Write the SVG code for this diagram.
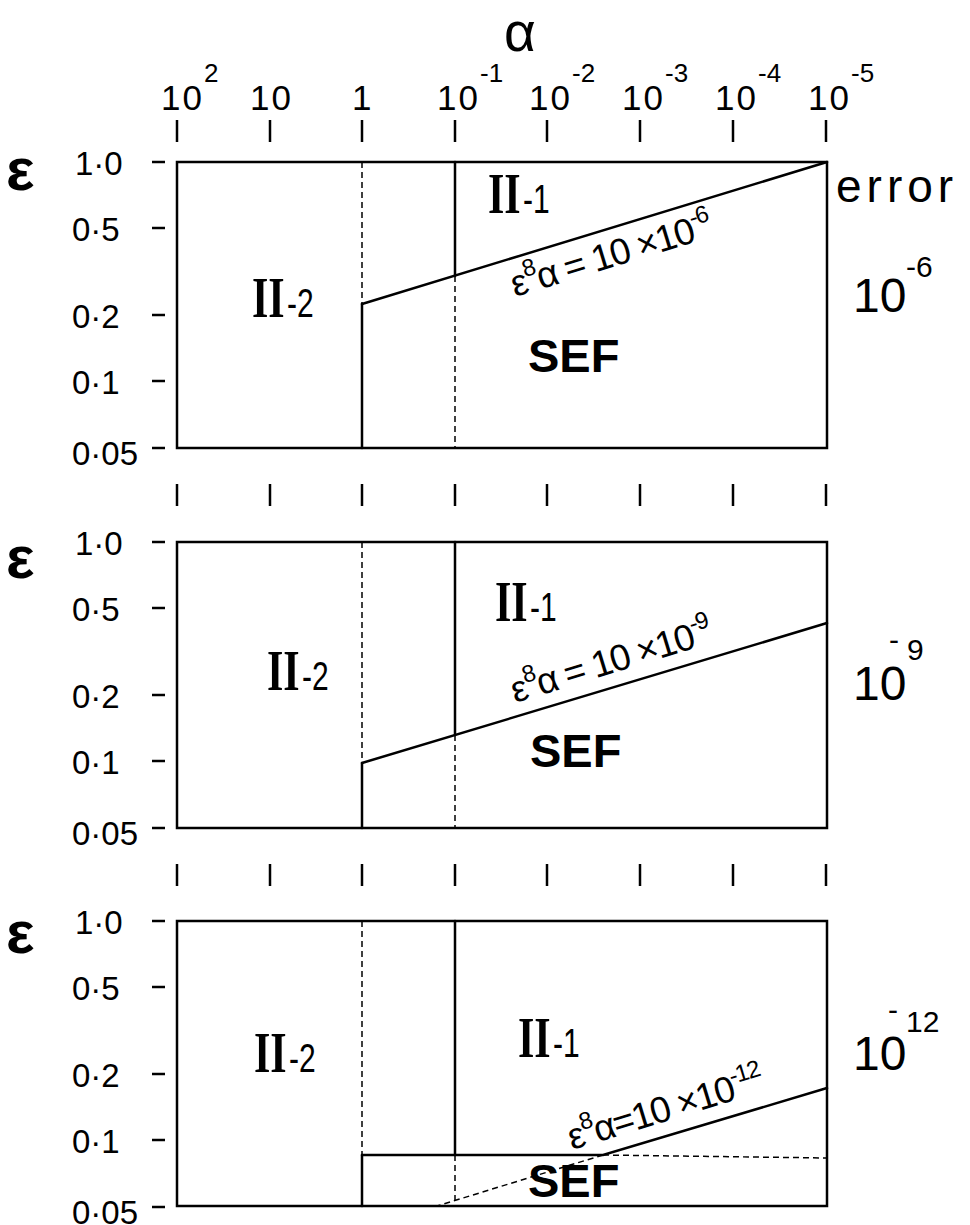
<svg xmlns="http://www.w3.org/2000/svg" width="970" height="1225" viewBox="0 0 970 1225">
<style>
.ln{stroke:#000;stroke-width:2.5;fill:none;stroke-linecap:round}
.ds{stroke:#000;stroke-width:1.5;fill:none;stroke-dasharray:6 4}
.tk{stroke:#000;stroke-width:2.5;fill:none}
.t{font-family:"Liberation Sans",Arial,sans-serif;fill:#000}
.ax{font-size:35px;letter-spacing:2px}
.sup{font-size:26px;letter-spacing:0}
.yl{font-size:33px}
.eps{font-family:"Liberation Sans",Arial,sans-serif;font-size:60px;font-weight:bold}
.rs{font-family:"Liberation Serif","Times New Roman",serif;font-weight:bold;font-size:56px}
.rn{font-family:"Liberation Sans",Arial,sans-serif;font-weight:normal;font-size:40px}
.sef{font-family:"Liberation Sans",Arial,sans-serif;font-weight:bold;font-size:47px}
.eq{font-family:"Liberation Sans",Arial,sans-serif;font-size:37px;letter-spacing:-1.5px}
.es{font-size:24px}
.big{font-family:"Liberation Sans",Arial,sans-serif;font-size:48px}
.bs{font-size:30px}
</style>
<defs>
<g id="yticks">
<line class="tk" x1="152" y1="0" x2="165" y2="0"/>
<line class="tk" x1="152" y1="66" x2="165" y2="66"/>
<line class="tk" x1="152" y1="153" x2="165" y2="153"/>
<line class="tk" x1="152" y1="219" x2="165" y2="219"/>
<line class="tk" x1="152" y1="286" x2="165" y2="286"/>
<text class="t yl" x="75" y="13">1·0</text>
<text class="t yl" x="72" y="79">0·5</text>
<text class="t yl" x="72" y="166">0·2</text>
<text class="t yl" x="72" y="232">0·1</text>
<text class="t yl" x="72" y="303">0·05</text>
</g>
<g id="xticks">
<line class="tk" x1="177" y1="0" x2="177" y2="22"/>
<line class="tk" x1="270" y1="0" x2="270" y2="22"/>
<line class="tk" x1="362" y1="0" x2="362" y2="22"/>
<line class="tk" x1="455" y1="0" x2="455" y2="22"/>
<line class="tk" x1="547" y1="0" x2="547" y2="22"/>
<line class="tk" x1="640" y1="0" x2="640" y2="22"/>
<line class="tk" x1="733" y1="0" x2="733" y2="22"/>
<line class="tk" x1="826" y1="0" x2="826" y2="22"/>
</g>
</defs>

<g id="alpha-axis">
<text class="t" x="520" y="51" font-size="55" text-anchor="middle">α</text>
<g class="t ax">
<text x="161" y="110">10<tspan class="sup" x="204" y="82">2</tspan></text>
<text x="250" y="110">10</text>
<text x="352" y="110">1</text>
<text x="437" y="110">10<tspan class="sup" x="480" y="82">-1</tspan></text>
<text x="529" y="110">10<tspan class="sup" x="572" y="82">-2</tspan></text>
<text x="622" y="110">10<tspan class="sup" x="665" y="82">-3</tspan></text>
<text x="715" y="110">10<tspan class="sup" x="758" y="82">-4</tspan></text>
<text x="808" y="110">10<tspan class="sup" x="851" y="82">-5</tspan></text>
</g>
<use href="#xticks" y="120"/>
<use href="#xticks" y="484"/>
<use href="#xticks" y="864"/>
</g>

<g id="panel1">
<text class="eps" x="6" y="190">ε</text>
<use href="#yticks" y="162"/>
<rect class="ln" x="177" y="162" width="650" height="286"/>
<text class="rs" transform="translate(252,317) scale(0.75,1)">II<tspan class="rn" dx="3">-2</tspan></text>
<text class="rs" transform="translate(488,213) scale(0.75,1)">II<tspan class="rn" dx="3">-1</tspan></text>
<text class="sef" x="528" y="372">SEF</text>
<text class="eq" transform="translate(515,297) rotate(-17)">ε<tspan class="es" dy="-16">8</tspan><tspan dy="16">α = 10 ×10</tspan><tspan class="es" dy="-16">-6</tspan></text>
<text class="t" x="836" y="202" font-size="46" letter-spacing="5">error</text>
<text class="big" x="853" y="312">10<tspan class="bs" x="906" y="277">-6</tspan></text>
</g>

<g id="panel2">
<text class="eps" x="6" y="578">ε</text>
<use href="#yticks" y="542"/>
<rect class="ln" x="177" y="542" width="650" height="286"/>
<text class="rs" transform="translate(267,690) scale(0.75,1)">II<tspan class="rn" dx="3">-2</tspan></text>
<text class="rs" transform="translate(495,621) scale(0.75,1)">II<tspan class="rn" dx="3">-1</tspan></text>
<text class="sef" x="530" y="767">SEF</text>
<text class="eq" transform="translate(515,703) rotate(-17)">ε<tspan class="es" dy="-16">8</tspan><tspan dy="16">α = 10 ×10</tspan><tspan class="es" dy="-16">-9</tspan></text>
<text class="big" x="853" y="700">10<tspan class="bs" x="889" y="650">-</tspan><tspan class="bs" x="907" y="660">9</tspan></text>
</g>

<g id="panel3">
<text class="eps" x="6" y="953">ε</text>
<use href="#yticks" y="921"/>
<rect class="ln" x="177" y="921" width="650" height="285"/>
<text class="rs" transform="translate(254,1072) scale(0.75,1)">II<tspan class="rn" dx="3">-2</tspan></text>
<text class="rs" transform="translate(518,1057) scale(0.75,1)">II<tspan class="rn" dx="3">-1</tspan></text>
<text class="sef" x="528" y="1197">SEF</text>
<text class="eq" transform="translate(572,1150) rotate(-17)">ε<tspan class="es" dy="-16">8</tspan><tspan dy="16">α=10 ×10</tspan><tspan class="es" dy="-16">-12</tspan></text>
<text class="big" x="853" y="1070">10<tspan class="bs" x="888" y="1020">-</tspan><tspan class="bs" x="906" y="1032">12</tspan></text>
</g>

<g id="connectors">
<line class="ds" x1="362" y1="162" x2="362" y2="304"/>
<line class="ln" x1="362" y1="304" x2="362" y2="448"/>
<line class="ln" x1="455" y1="162" x2="455" y2="276"/>
<line class="ds" x1="455" y1="276" x2="455" y2="448"/>
<line class="ln" x1="362" y1="304" x2="827" y2="162"/>

<line class="ds" x1="362" y1="542" x2="362" y2="763"/>
<line class="ln" x1="362" y1="763" x2="362" y2="828"/>
<line class="ln" x1="455" y1="542" x2="455" y2="735"/>
<line class="ds" x1="455" y1="735" x2="455" y2="828"/>
<line class="ln" x1="362" y1="763" x2="827" y2="623"/>

<line class="ds" x1="362" y1="921" x2="362" y2="1155"/>
<line class="ln" x1="362" y1="1155" x2="362" y2="1206"/>
<line class="ln" x1="455" y1="921" x2="455" y2="1155"/>
<line class="ds" x1="455" y1="1155" x2="455" y2="1206"/>
<polyline class="ln" points="362,1155 603,1155 827,1088"/>
<line class="ds" x1="603" y1="1155" x2="827" y2="1158"/>
<line class="ds" x1="603" y1="1155" x2="437" y2="1206"/>
</g>
</svg>
